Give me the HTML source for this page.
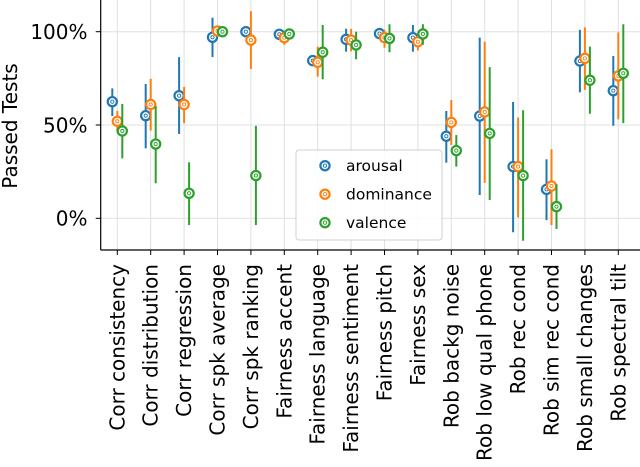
<!DOCTYPE html>
<html><head><meta charset="utf-8"><style>
body{margin:0;background:#fff}
svg{display:block;font-family:"DejaVu Sans","Liberation Sans",sans-serif}
</style></head><body>
<svg id="chart" width="640" height="467" viewBox="0 0 640 467"></svg>
<script>
const categories=["Corr consistency","Corr distribution","Corr regression","Corr spk average","Corr spk ranking","Fairness accent","Fairness language","Fairness sentiment","Fairness pitch","Fairness sex","Rob backg noise","Rob low qual phone","Rob rec cond","Rob sim rec cond","Rob small changes","Rob spectral tilt"];
const arousalVal=[62.5,55,65.7,97,100,98.6,84.5,95.9,99,96.8,44,54.8,27.7,15.5,84.3,68.4];
const arousalLo=[54.8,37.5,45.2,86.4,100,98.6,84.5,89.3,99,89.3,29.8,12.5,-7.5,-1,67.5,49.6];
const arousalHi=[69.6,72,86.4,107.5,100,98.6,84.5,101.6,99,103.6,57.5,96.8,62.3,31.6,101,87];
const dominanceVal=[52,61,61,100.4,95.5,96.8,83.6,95.5,96.8,94.6,51.4,57,27.7,17.3,85.7,76.3];
const dominanceLo=[46.4,47,50.9,100.4,80,93,75.9,89.5,91.4,90,39.3,19,0.5,-3.6,68.8,53];
const dominanceHi=[57.5,74.8,70.4,100.4,111,100,92,101.5,101,98,63.4,94.6,54,37,102.3,99.6];
const valenceVal=[46.8,39.8,13.4,100,22.9,98.8,89,92.9,96.4,98.8,36.3,45.5,22.9,6.25,74,77.7];
const valenceLo=[32.1,18.8,-3.6,100,-3.6,98.8,74.5,85.2,89,93,27.7,9.8,-12,-5.7,56,51];
const valenceHi=[61.3,60.2,30,100,49.5,98.8,103.6,100,104,104,44.6,81,57.9,18.2,92,104];
const yTicks=[0,50,100];
const yTickLabels=["0%","50%","100%"];
const seriesNames=["arousal","dominance","valence"];
const colors=["#1f77b4","#ff7f0e","#2ca02c"];

const NS="http://www.w3.org/2000/svg";
const svg=document.getElementById("chart");
const X0=100.7,X1=640,Y0=250,Ytop=0;
function xs(i){return 117.3+i*33.4;}
function ys(v){return 218.3-v*1.866;}
function mk(tag,attrs,parent){const e=document.createElementNS(NS,tag);for(const k in attrs)e.setAttribute(k,attrs[k]);(parent||svg).appendChild(e);return e;}

yTicks.forEach((t,i)=>{
  const g=mk("line",{x1:X0,x2:X1,y1:ys(t),y2:ys(t),stroke:"#e0e0e0","stroke-width":1});
  
  
  const tk=mk("line",{x1:X0-5,x2:X0,y1:ys(t),y2:ys(t),stroke:"#000","stroke-width":1});
  
  
  const tx=mk("text",{x:87.5,y:ys(t)+7.3,"text-anchor":"end","font-size":20,fill:"#000"});
  tx.textContent=yTickLabels[i];
  
  
});
categories.forEach((c,i)=>{
  const g=mk("line",{x1:xs(i),x2:xs(i),y1:Ytop,y2:Y0,stroke:"#e0e0e0","stroke-width":1});
  
  
  const tk=mk("line",{x1:xs(i),x2:xs(i),y1:Y0,y2:Y0+5,stroke:"#000","stroke-width":1});
  
  
  const tx=mk("text",{x:0,y:0,"text-anchor":"end","font-size":20,fill:"#000",transform:`translate(${xs(i)+7},${Y0+14}) rotate(-90)`});
  tx.textContent=c;
  
  
});
const sl=mk("line",{x1:X0,x2:X0,y1:Ytop,y2:Y0,stroke:"#000","stroke-width":1.2});


const sb=mk("line",{x1:X0,x2:X1,y1:Y0,y2:Y0,stroke:"#000","stroke-width":1.2});


const yt=mk("text",{x:0,y:0,"text-anchor":"middle","font-size":20,fill:"#000",transform:"translate(17,126) rotate(-90)"});
yt.textContent="Passed Tests";



const vals=[arousalVal,dominanceVal,valenceVal],los=[arousalLo,dominanceLo,valenceLo],his=[arousalHi,dominanceHi,valenceHi];
const offs=[-5,0,5];
function marker(x,y,col,parent){
  mk("circle",{cx:x,cy:y,r:4.6,fill:"#fff",stroke:col,"stroke-width":2.2},parent);
  mk("circle",{cx:x,cy:y,r:1.6,fill:"none",stroke:col,"stroke-width":0.9},parent);
}
for(let s=0;s<3;s++){
  const g=mk("g",{});
  
  
  categories.forEach((c,i)=>{
    const x=xs(i)+offs[s];
    const eb=mk("line",{x1:x,x2:x,y1:ys(his[s][i]),y2:ys(los[s][i]),stroke:colors[s],"stroke-width":2},g);
    
    
  });
  categories.forEach((c,i)=>{
    const p=mk("g",{},g);
    
    
    marker(xs(i)+offs[s],ys(vals[s][i]),colors[s],p);
  });
}
const lg=mk("g",{});


mk("rect",{x:296,y:150,width:146,height:90,rx:3,fill:"#fff","fill-opacity":0.85,stroke:"#d0d0d0"},lg);
seriesNames.forEach((n,k)=>{
  const e=mk("g",{},lg);
  
  
  const y=165.7+k*28.5;
  marker(325,y,colors[k],e);
  const t=mk("text",{x:346,y:y+5.5,"font-size":15.5,fill:"#000"},e);
  t.textContent=n;
});
</script>
</body></html>
